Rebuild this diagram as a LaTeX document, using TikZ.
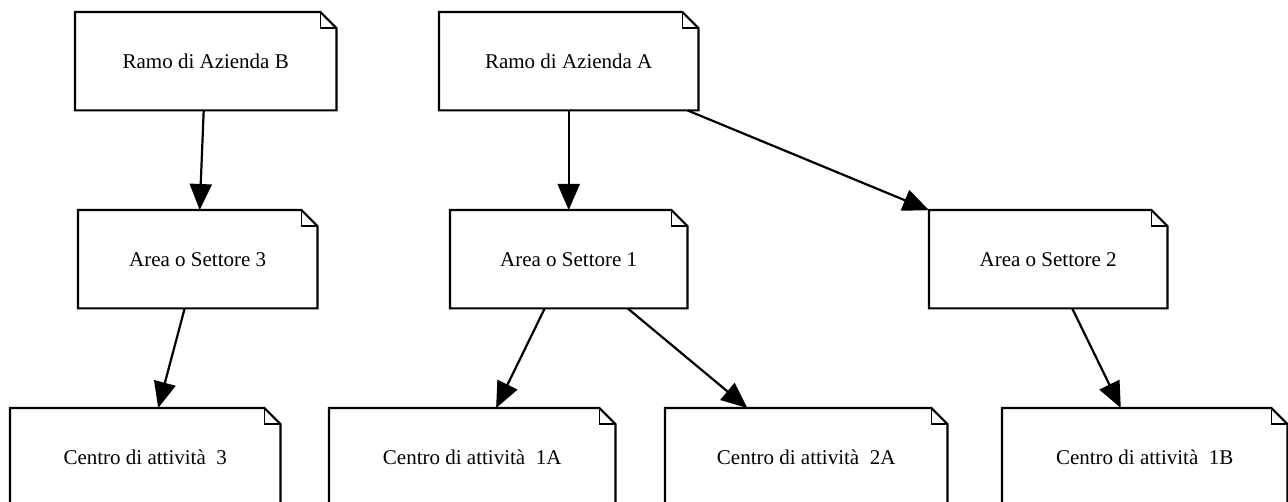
\documentclass[tikz,border=0pt]{standalone}
\usepackage{fontspec}
\setmainfont{Liberation Serif}
\usetikzlibrary{arrows.meta}
\tikzset{
  notebox/.style={rectangle, draw=none, anchor=north west, inner sep=0pt, minimum height=98pt,
    font=\fontsize{21}{25}\selectfont},
  conn/.style={line width=2.2pt, -{Triangle[length=26pt,width=22pt]}},
  outline/.style={line width=2.2pt, line join=miter}
}
\begin{document}
\begin{tikzpicture}[x=1pt,y=-1pt]
\useasboundingbox (0,0) rectangle (1288,502);
\clip (0,0) rectangle (1288,502);
\node[notebox, minimum width=261pt] (rb) at (75,12) {Ramo di Azienda B};
\node[notebox, minimum width=259pt] (ra) at (439,12) {Ramo di Azienda A};
\node[notebox, minimum width=239pt] (a3) at (78,210) {Area o Settore 3};
\node[notebox, minimum width=237pt] (a1) at (450,210) {Area o Settore 1};
\node[notebox, minimum width=238pt] (a2) at (929,210) {Area o Settore 2};
\node[notebox, minimum width=270pt] (c3) at (10,408) {Centro di attività~ 3};
\node[notebox, minimum width=286pt] (c1a) at (329,408) {Centro di attività~ 1A};
\node[notebox, minimum width=282pt] (c2a) at (665,408) {Centro di attività~ 2A};
\node[notebox, minimum width=285pt] (c1b) at (1002,408) {Centro di attività~ 1B};
\foreach \n in {rb,ra,a3,a1,a2,c3,c1a,c2a,c1b}{
  \draw[outline] (\n.north west) -- ([xshift=-16pt]\n.north east) -- ([yshift=-16pt]\n.north east)
    -- (\n.south east) -- (\n.south west) -- cycle;
  \draw[line width=1.6pt] ([xshift=-16pt]\n.north east) -- ([xshift=-16pt,yshift=-16pt]\n.north east)
    -- ([yshift=-16pt]\n.north east);
}
\draw[conn] (rb) -- (a3);
\draw[conn] (a3) -- (c3);
\draw[conn] (ra) -- (a1);
\draw[conn] (ra) -- (a2);
\draw[conn] (a1) -- (c1a);
\draw[conn] (a1) -- (c2a);
\draw[conn] (a2) -- (c1b);
\end{tikzpicture}
\end{document}
